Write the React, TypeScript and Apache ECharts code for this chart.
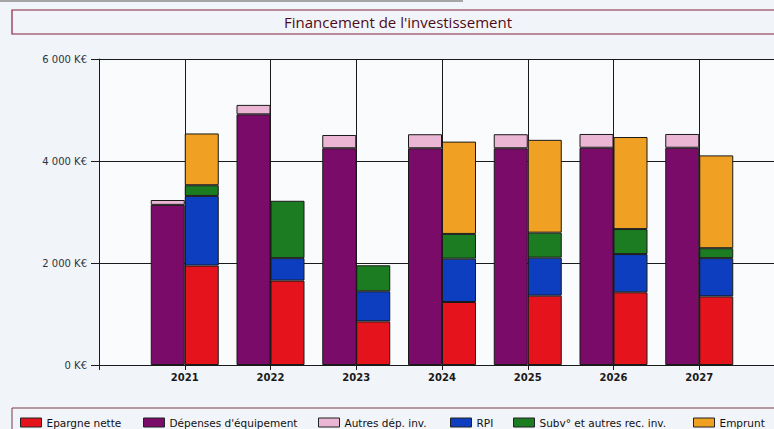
import React, { useEffect, useRef } from "react";
import * as echarts from "echarts";

const years = ["2021", "2022", "2023", "2024", "2025", "2026", "2027"];
const epargneNette = [1950, 1655, 855, 1235, 1360, 1425, 1345];
const depensesEquipement = [3140, 4915, 4250, 4250, 4250, 4260, 4260];
const autresDepInv = [95, 185, 260, 275, 275, 270, 270];
const rpi = [1365, 440, 590, 850, 745, 750, 750];
const subvAutresRec = [210, 1125, 510, 485, 490, 490, 195];
const emprunt: (number | null)[] = [1015, null, null, 1810, 1820, 1805, 1820];
const yTicks = [0, 2000, 4000, 6000];

const names = {
  epargne: "Epargne nette",
  depenses: "Dépenses d'équipement",
  autres: "Autres dép. inv.",
  rpi: "RPI",
  subv: "Subv° et autres rec. inv.",
  emprunt: "Emprunt",
};

const colors = {
  epargne: "#e5141c",
  depenses: "#7b0b68",
  autres: "#ebb5d4",
  rpi: "#0c3ebf",
  subv: "#1b7c22",
  emprunt: "#f0a022",
};

const legendOrder: (keyof typeof names)[] = ["epargne", "depenses", "autres", "rpi", "subv", "emprunt"];
const legendLeft = [20, 143, 318, 450, 513, 693];

function pad(arr: (number | null)[]) {
  return ["-", ...arr.map((v) => (v == null ? "-" : v)), "-"];
}

export default function App() {
  const ref = useRef<HTMLDivElement>(null);
  useEffect(() => {
    if (!ref.current) return;
    const chart = echarts.init(ref.current, null, { renderer: "svg" });
    const categories = ["", ...years, ""];
    const font = "DejaVu Sans";
    const mk = (key: keyof typeof names, data: (number | null)[], stack: string) => ({
      name: names[key],
      type: "bar",
      stack,
      barWidth: 34,
      barGap: "0%",
      data: pad(data),
      itemStyle: { color: colors[key], borderColor: "#1a1a1a", borderWidth: 1 },
    });
    chart.setOption({
      animation: false,
      backgroundColor: "#f1f4f8",
      textStyle: { fontFamily: font },
      grid: {
        left: 99,
        top: 59,
        bottom: 64,
        right: 15,
        show: true,
        backgroundColor: "#fafbfd",
        borderWidth: 0,
      },
      graphic: [
        { type: "rect", shape: { x: 0, y: 0, width: 463, height: 2 }, style: { fill: "#a5a5a5" } },
        {
          type: "rect",
          shape: { x: 12, y: 10, width: 790, height: 24 },
          style: { fill: "none", stroke: "#8a2040", lineWidth: 1.2 },
        },
        {
          type: "text",
          x: 398,
          y: 22,
          style: {
            text: "Financement de l'investissement",
            fill: "#4f0a18",
            font: "15px 'Open Sans'",
            align: "center",
            verticalAlign: "middle",
          },
        },
        {
          type: "rect",
          shape: { x: 12, y: 408, width: 790, height: 40 },
          style: { fill: "none", stroke: "#7a3a4a", lineWidth: 1 },
        },
      ],
      legend: legendOrder.map((k, i) => ({
        data: [names[k]],
        left: legendLeft[i],
        top: 417,
        padding: 0,
        itemWidth: 21,
        itemHeight: 9,
        icon: "rect",
        itemStyle: { borderColor: "#222", borderWidth: 1 },
        textStyle: { fontFamily: font, fontSize: 10.5, color: "#111" },
        selectedMode: false,
      })),
      xAxis: {
        type: "category",
        data: categories,
        boundaryGap: false,
        axisLine: { lineStyle: { color: "#1a1a1a", width: 1 } },
        axisTick: { show: true, length: 5, lineStyle: { color: "#1a1a1a" } },
        axisLabel: {
          interval: 0,
          fontFamily: font,
          fontSize: 10,
          fontWeight: "bold",
          color: "#1a1a1a",
          margin: 7,
        },
        splitLine: { show: true, lineStyle: { color: "#1a1a1a", width: 1 } },
      },
      yAxis: {
        type: "value",
        min: yTicks[0],
        max: yTicks[yTicks.length - 1],
        interval: yTicks[1] - yTicks[0],
        axisLine: { show: true, lineStyle: { color: "#1a1a1a", width: 1 } },
        axisTick: { show: true, length: 8, lineStyle: { color: "#1a1a1a" } },
        axisLabel: {
          fontFamily: font,
          fontSize: 10,
          color: "#2b3541",
          margin: 12,
          formatter: (v: number) => `${String(v).replace(/\B(?=(\d{3})+(?!\d))/g, " ")} K€`,
        },
        splitLine: { show: true, lineStyle: { color: "#1a1a1a", width: 1 } },
      },
      series: [
        mk("depenses", depensesEquipement, "A"),
        mk("autres", autresDepInv, "A"),
        mk("epargne", epargneNette, "B"),
        mk("rpi", rpi, "B"),
        mk("subv", subvAutresRec, "B"),
        mk("emprunt", emprunt, "B"),
      ],
    });
    return () => chart.dispose();
  }, []);
  return (
    <div
      style={{
        position: "fixed",
        left: 0,
        top: 0,
        width: 774,
        height: 429,
        overflow: "hidden",
        background: "#f1f4f8",
      }}
    >
      <div ref={ref} style={{ width: 800, height: 429 }} />
    </div>
  );
}
